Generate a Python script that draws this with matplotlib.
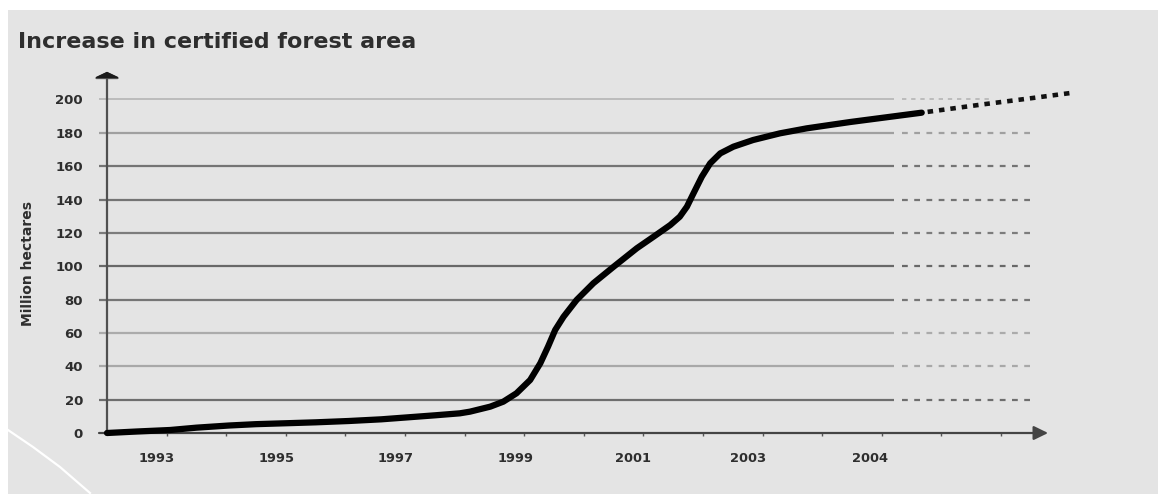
import matplotlib
matplotlib.use("Agg")
import matplotlib.pyplot as plt
from matplotlib.patches import Rectangle
from matplotlib.lines import Line2D

# ---------------- data (x = position in year-tick units, 0 = axis origin) -------------
area_x = [0.00, 0.50, 1.06, 1.50, 2.05, 2.50, 3.05, 3.50, 4.06, 4.60, 5.05, 5.50,
          5.92, 6.09, 6.43, 6.65, 6.87, 7.10, 7.27, 7.40, 7.52, 7.66, 7.88, 8.16,
          8.50, 8.89, 9.17, 9.45, 9.61, 9.73, 9.84, 9.98, 10.12, 10.29, 10.51,
          10.84, 11.29, 11.74, 12.47, 13.67]
area_mha = [0.0, 0.9, 1.8, 3.2, 4.5, 5.3, 5.9, 6.4, 7.2, 8.2, 9.4, 10.6,
            11.8, 12.8, 15.8, 18.8, 23.8, 31.8, 41.8, 51.8, 61.8, 69.7, 79.8, 89.8,
            99.7, 110.8, 117.7, 124.7, 129.7, 135.7, 143.7, 153.7, 161.7, 167.7, 171.7,
            175.7, 179.7, 182.7, 186.5, 192.1]

proj_x = [13.67, 14.70, 15.49, 16.21]
proj_mha = [192.1, 197.1, 200.7, 204.1]

y_ticks = [0, 20, 40, 60, 80, 100, 120, 140, 160, 180, 200]
x_tick_pos = list(range(1, 16))
x_label_pos = [0.83, 2.84, 4.84, 6.86, 8.83, 10.76, 12.80]
x_labels = ["1993", "1995", "1997", "1999", "2001", "2003", "2004"]

title = "Increase in certified forest area"
ylabel = "Million hectares"

# ---------------- styles ----------------
grid_colors = {20: "#6e6e6e", 40: "#a8a8a8", 60: "#ababab", 80: "#767676",
               100: "#686868", 120: "#7c7c7c", 140: "#747474", 160: "#747474",
               180: "#a0a0a0", 200: "#b4b4b4"}
BG = "#e4e4e4"
TXT = "#2e2e2e"
AX = "#555555"

W, H = 1158, 494
fig = plt.figure(figsize=(W / 100, H / 100), dpi=100, facecolor="white")

# gray panel background
fig.patches.append(Rectangle((8 / W, 0), 1 - 8 / W, 1 - 10 / H, transform=fig.transFigure,
                             facecolor=BG, edgecolor="none", zorder=-10))
# decorative white curve lower-left
fig.lines.append(Line2D([8 / W, 33 / W, 60 / W, 90 / W],
                        [1 - 430 / H, 1 - 447 / H, 1 - 467 / H, 1 - 493 / H],
                        transform=fig.transFigure, color="white", lw=1.6, zorder=-5))

# axes geometry (pixel calibration: x px = 107 + 59.6*x, y px = 433 - 1.6675*y)
xl, xr = -0.134, 16.6
yb, yt = 0, 222
left = (107 + 59.6 * xl) / W
width = (59.6 * (xr - xl)) / W
bottom = 1 - 433 / H
height = (1.6675 * (yt - yb)) / H
ax = fig.add_axes([left, bottom, width, height])
ax.set_zorder(5)
ax.set_facecolor("none")
ax.set_xlim(xl, xr)
ax.set_ylim(yb, yt)
for s in ax.spines.values():
    s.set_visible(False)

# gridlines: solid part + dotted continuation
for v in y_ticks[1:]:
    c = grid_colors[v]
    lw = 1.2 if v == 200 else 1.6
    ax.plot([xl, 13.2], [v, v], color=c, lw=lw, solid_capstyle="butt", zorder=2)
    xend = 14.85 if v == 200 else 15.49
    ax.plot([13.34, xend], [v, v], color=c, lw=lw, linestyle=(0, (2.6, 2.9)),
            dash_capstyle="butt", zorder=2)

# x axis with arrow
ax.annotate("", xy=(15.79, 0), xytext=(xl, 0), xycoords="data",
            arrowprops=dict(arrowstyle="-|>,head_length=0.43,head_width=0.21",
                            mutation_scale=20, lw=1.6, color="#444444",
                            shrinkA=0, shrinkB=0), annotation_clip=False, zorder=3)
# y axis with arrow
ax.annotate("", xy=(0, 216.6), xytext=(0, 0), xycoords="data",
            arrowprops=dict(arrowstyle="-|>,head_length=0.18,head_width=0.38",
                            mutation_scale=20, lw=1.6, color="#505050",
                            shrinkA=0, shrinkB=0), annotation_clip=False, zorder=3)
# darker cap of the y arrow
ax.annotate("", xy=(0, 216.6), xytext=(0, 213.0), xycoords="data",
            arrowprops=dict(arrowstyle="-|>,head_length=0.18,head_width=0.38",
                            mutation_scale=20, lw=0.8, color="#1a1a1a",
                            shrinkA=0, shrinkB=0), annotation_clip=False, zorder=4)

# curve
ax.plot(area_x, area_mha, color="black", lw=4.5, solid_joinstyle="round",
        solid_capstyle="round", clip_on=False, zorder=5)
ax.plot(proj_x, proj_mha, color="#111111", lw=3.3, linestyle=(1.2, (1.2, 1.3)),
        dash_capstyle="butt", clip_on=False, zorder=5)

# ticks
ax.set_yticks(y_ticks)
ax.set_yticklabels([str(v) for v in y_ticks])
ax.tick_params(axis="y", length=0, pad=11.5, labelsize=9.5, labelcolor=TXT)
for lab in ax.get_yticklabels():
    lab.set_fontweight("bold")

ax.set_xticks(x_tick_pos)
ax.set_xticklabels([""] * len(x_tick_pos))
ax.tick_params(axis="x", which="major", length=2.4, width=1.0, color=AX, direction="out")
ax.set_xticks(x_label_pos, minor=True)
ax.set_xticklabels(x_labels, minor=True)
ax.tick_params(axis="x", which="minor", length=0, pad=13.5, labelsize=9.4, labelcolor=TXT)
for lab in ax.get_xticklabels(minor=True):
    lab.set_fontweight("bold")

# texts
fig.text(18 / W, 1 - 48 / H, title, fontsize=16, fontweight="bold", color=TXT,
         ha="left", va="baseline")
fig.text(28 / W, 1 - 263 / H, ylabel, fontsize=10, fontweight="bold", color=TXT,
         rotation=90, ha="center", va="center")

fig.savefig("out.png", dpi=100, facecolor="white")
